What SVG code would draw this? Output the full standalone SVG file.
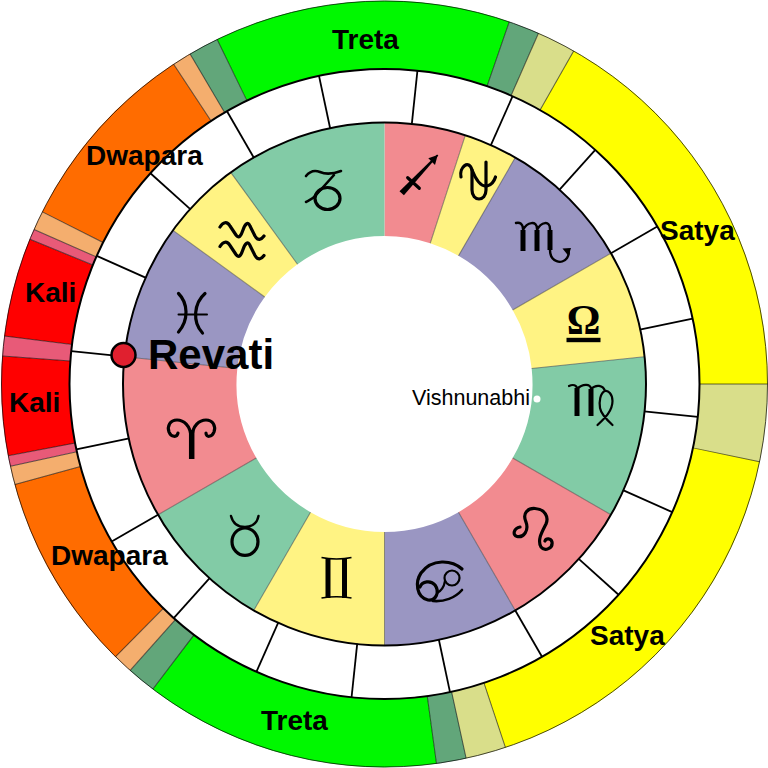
<svg xmlns="http://www.w3.org/2000/svg" width="768" height="768" viewBox="0 0 768 768">
<style>
.y{fill:none;stroke-width:68.5}
.z{fill:none;stroke-width:113.5}
.yellow{stroke:#FFFF00}.pale{stroke:#D9DE8A}.dg{stroke:#62A67A}.green{stroke:#00F800}.peach{stroke:#F4AE6E}.orange{stroke:#FF6C00}.pink{stroke:#E85A78}.red{stroke:#FF0000}
.zp{stroke:#F28B90}.zy{stroke:#FFF383}.zt{stroke:#82CBA6}.zv{stroke:#9A96C2}
.e{stroke:#000;stroke-opacity:.6;stroke-width:1}
.t{stroke:#000;stroke-width:1.8}
.d{stroke:#3c3c3c;stroke-opacity:.55;stroke-width:1}
.r{fill:none;stroke:#000}
.l{font-family:"Liberation Sans",Arial,sans-serif;font-weight:700;font-size:28px;fill:#000}
.s{fill:none;stroke:#000;stroke-width:3.2;stroke-linecap:round;stroke-linejoin:round}
.b{fill:none;stroke:#000;stroke-width:5}
</style>
<rect width="768" height="768" fill="#fff"/>
<g id="yuga-ring">
<g id="satya-upper"><circle class="y yellow" r="349" pathLength="360" stroke-dasharray="60.4 360" transform="translate(384.5 384) rotate(-60.4)"/></g>
<g id="sandhi-satya-east"><circle class="y pale" r="349" pathLength="360" stroke-dasharray="11.7 360" transform="translate(384.5 384)"/></g>
<g id="satya-lower"><circle class="y yellow" r="349" pathLength="360" stroke-dasharray="59.9 360" transform="translate(384.5 384) rotate(11.7)"/></g>
<g id="sandhi-satya-south"><circle class="y pale" r="349" pathLength="360" stroke-dasharray="6.1 360" transform="translate(384.5 384) rotate(71.6)"/></g>
<g id="sandhi-treta-s1"><circle class="y dg" r="349" pathLength="360" stroke-dasharray="4.5 360" transform="translate(384.5 384) rotate(77.7)"/></g>
<g id="treta-lower"><circle class="y green" r="349" pathLength="360" stroke-dasharray="45 360" transform="translate(384.5 384) rotate(82.2)"/></g>
<g id="sandhi-treta-s2"><circle class="y dg" r="349" pathLength="360" stroke-dasharray="4.4 360" transform="translate(384.5 384) rotate(127.2)"/></g>
<g id="sandhi-dwapara-s1"><circle class="y peach" r="349" pathLength="360" stroke-dasharray="3 360" transform="translate(384.5 384) rotate(131.6)"/></g>
<g id="dwapara-lower"><circle class="y orange" r="349" pathLength="360" stroke-dasharray="30.2 360" transform="translate(384.5 384) rotate(134.6)"/></g>
<g id="sandhi-dwapara-s2"><circle class="y peach" r="349" pathLength="360" stroke-dasharray="2.8 360" transform="translate(384.5 384) rotate(164.8)"/></g>
<g id="sandhi-kali-s"><circle class="y pink" r="349" pathLength="360" stroke-dasharray="1.6 360" transform="translate(384.5 384) rotate(167.6)"/></g>
<g id="kali-lower"><circle class="y red" r="349" pathLength="360" stroke-dasharray="15 360" transform="translate(384.5 384) rotate(169.2)"/></g>
<g id="sandhi-kali-w"><circle class="y pink" r="349" pathLength="360" stroke-dasharray="3 360" transform="translate(384.5 384) rotate(184.2)"/></g>
<g id="kali-upper"><circle class="y red" r="349" pathLength="360" stroke-dasharray="15 360" transform="translate(384.5 384) rotate(187.2)"/></g>
<g id="sandhi-kali-n"><circle class="y pink" r="349" pathLength="360" stroke-dasharray="1.6 360" transform="translate(384.5 384) rotate(202.2)"/></g>
<g id="sandhi-dwapara-n1"><circle class="y peach" r="349" pathLength="360" stroke-dasharray="2.9 360" transform="translate(384.5 384) rotate(203.8)"/></g>
<g id="dwapara-upper"><circle class="y orange" r="349" pathLength="360" stroke-dasharray="29.9 360" transform="translate(384.5 384) rotate(206.7)"/></g>
<g id="sandhi-dwapara-n2"><circle class="y peach" r="349" pathLength="360" stroke-dasharray="2.9 360" transform="translate(384.5 384) rotate(236.6)"/></g>
<g id="sandhi-treta-n1"><circle class="y dg" r="349" pathLength="360" stroke-dasharray="4.6 360" transform="translate(384.5 384) rotate(239.5)"/></g>
<g id="treta-upper"><circle class="y green" r="349" pathLength="360" stroke-dasharray="44.9 360" transform="translate(384.5 384) rotate(244.1)"/></g>
<g id="sandhi-treta-n2"><circle class="y dg" r="349" pathLength="360" stroke-dasharray="4.7 360" transform="translate(384.5 384) rotate(-71)"/></g>
<g id="sandhi-satya-n"><circle class="y pale" r="349" pathLength="360" stroke-dasharray="5.9 360" transform="translate(384.5 384) rotate(-66.3)"/></g>
</g>
<g id="zodiac-ring">
<g id="sagittarius"><circle class="z zp" r="204.75" pathLength="360" stroke-dasharray="18 360" transform="translate(384.5 384) rotate(-90)"/>
<path d="M399.5 191.3L403.9 195.3L438.3 155.5L437.1 154.5Z" fill="#000"/><path d="M407.7 177.7L419.3 188.3" class="s" stroke-width="3.5"/><path d="M428.3 158.3L437.7 155L435 165Z" fill="#000"/></g>
<g id="ophiuchus"><circle class="z zy" r="204.75" pathLength="360" stroke-dasharray="12 360" transform="translate(384.5 384) rotate(-72)"/>
<path class="s" d="M461 177C459 167 469 159 472 170L472 190C472 202 486 202 486 190L486 162"/><path class="s" d="M472 170C476 180 481 187 487 186C491 185 494 182 495.5 177"/></g>
<g id="scorpio"><circle class="z zv" r="204.75" pathLength="360" stroke-dasharray="30 360" transform="translate(384.5 384) rotate(-60)"/>
<path class="b" d="M523 230L523 251M537 230L537 251M550 230L550 250"/><path class="s" stroke-width="2.4" style="stroke-width:2.4" d="M516 223C520 222 523 224 523 229M523 230C527 222 537 220 537 229M537 230C541 222 550 220 550 229L550 250C550 262 562 265 567 258C569 255 569 252 568 250"/><path d="M562.5 248.5L571 248L568.5 256Z" fill="#000"/></g>
<g id="libra"><circle class="z zy" r="204.75" pathLength="360" stroke-dasharray="24 360" transform="translate(384.5 384) rotate(-30)"/>
<text x="583.5" y="334" text-anchor="middle" font-family="'Liberation Serif','DejaVu Serif',serif" font-weight="700" font-size="42">Ω</text><rect x="566.5" y="337.8" width="34" height="4.4" fill="#000"/></g>
<g id="virgo"><circle class="z zt" r="204.75" pathLength="360" stroke-dasharray="36 360" transform="translate(384.5 384) rotate(-6)"/>
<path class="b" d="M577 388L577 416M591 389L591 416"/><path class="s" style="stroke-width:2.2" d="M569 386C573 384 577 385 577 389M577 389C582 384 591 383 591 389C596 384 603 385 605 391M597.5 425C605 418 612.5 411 612.5 401C612.5 394 608 390 605 391C600 393 599 402 600 408C601 414 607 420 612.5 425"/></g>
<g id="leo"><circle class="z zp" r="204.75" pathLength="360" stroke-dasharray="30 360" transform="translate(384.5 384) rotate(30)"/>
<path class="s" d="M520 527C514 528 512 535 517 536.5C524 538 529 530 526 522C522 513 528 508 535 508.5C545 509 549 517 546 524C542 532 537 540 541 547C545 552 553 548 552 542C551 538 546 538 545 541"/></g>
<g id="cancer"><circle class="z zv" r="204.75" pathLength="360" stroke-dasharray="30 360" transform="translate(384.5 384) rotate(60)"/>
<path class="s" d="M462 569C452 560 432 558 421 573C415 582 416 597 428 600C436 601 440 592 435 585C431 580 422 581 420 587"/><path class="s" style="stroke-width:2.6" d="M462 590C455 598 444 602 433 601"/><circle class="s" style="stroke-width:2.2" cx="452" cy="578" r="7.5"/><path class="s" style="stroke-width:2.2" d="M445 581C444 587 441 591 437 593"/></g>
<g id="gemini"><circle class="z zy" r="204.75" pathLength="360" stroke-dasharray="30 360" transform="translate(384.5 384) rotate(90)"/>
<path class="b" d="M328 558L328 598M344.5 558L344.5 598"/><path class="s" style="stroke-width:1.6;stroke-linecap:butt" d="M321.5 557.5C330 559.5 343 559.5 351.5 557.5M321.5 598C330 596.5 343 596.5 351.5 598"/></g>
<g id="taurus"><circle class="z zt" r="204.75" pathLength="360" stroke-dasharray="30 360" transform="translate(384.5 384) rotate(120)"/>
<ellipse class="s" cx="245" cy="541.7" rx="13" ry="13.7"/><path class="s" style="stroke-width:2.4" d="M231 516C233 524 239 527 245 527C251 527 257 524 258.5 516"/></g>
<g id="aries"><circle class="z zp" r="204.75" pathLength="360" stroke-dasharray="36 360" transform="translate(384.5 384) rotate(150)"/>
<path class="b" style="stroke-width:5.5" d="M191.7 430L191.7 459"/><path class="s" d="M191 438C191 425 183 420 177 420C170 420 167 426 169 432C171 437 177 438 178 433M192 438C192 425 200 420 206 420C213 420 216 426 214 432C212 437 206 438 206 433"/></g>
<g id="pisces"><circle class="z zv" r="204.75" pathLength="360" stroke-dasharray="30 360" transform="translate(384.5 384) rotate(186)"/>
<path class="s" d="M178.5 293.5C188 303 189 320 178.5 332M205 293.5C194 303 192 322 202.5 333"/><path class="s" style="stroke-width:2" d="M178.5 314.5L207 314.5"/></g>
<g id="aquarius"><circle class="z zy" r="204.75" pathLength="360" stroke-dasharray="18 360" transform="translate(384.5 384) rotate(216)"/>
<path class="s" id="wave-a" d="M220 227C223 222 227 221 230 226L236 235C239 239 241 236 243 230C245 224 248 221 250 226L255 236C258 241 261 240 264 236"/><path class="s" d="M220 246.5C223 241.500 227 240.500 230 245.500L236 254.500C239 258.500 241 255.500 243 249.500C245 243.500 248 240.500 250 245.500L255 255.500C258 260.500 261 259.500 264 255.500"/></g>
<g id="capricorn"><circle class="z zt" r="204.75" pathLength="360" stroke-dasharray="36 360" transform="translate(384.5 384) rotate(234)"/>
<path class="s" style="stroke-width:2.6" d="M306 176C310 171 315 170 320 172C327 175 333 174 341 171M334 175L316 195C313 199 310 200 306 202"/><ellipse class="s" cx="327.500" cy="198.500" rx="12.500" ry="11"/></g>
</g>
<g id="connectors" transform="translate(384.5 384)">
<g id="yuga-dividers">
<line class="e" y1="-315" y2="-383" transform="rotate(29.6)"/><line class="e" y1="-315" y2="-383" transform="rotate(90)"/><line class="e" y1="-315" y2="-383" transform="rotate(101.7)"/><line class="e" y1="-315" y2="-383" transform="rotate(161.6)"/><line class="e" y1="-315" y2="-383" transform="rotate(167.7)"/><line class="e" y1="-315" y2="-383" transform="rotate(172.2)"/><line class="e" y1="-315" y2="-383" transform="rotate(217.2)"/><line class="e" y1="-315" y2="-383" transform="rotate(221.6)"/><line class="e" y1="-315" y2="-383" transform="rotate(224.6)"/><line class="e" y1="-315" y2="-383" transform="rotate(254.8)"/><line class="e" y1="-315" y2="-383" transform="rotate(257.6)"/><line class="e" y1="-315" y2="-383" transform="rotate(259.2)"/><line class="e" y1="-315" y2="-383" transform="rotate(274.2)"/><line class="e" y1="-315" y2="-383" transform="rotate(277.2)"/><line class="e" y1="-315" y2="-383" transform="rotate(292.2)"/><line class="e" y1="-315" y2="-383" transform="rotate(293.8)"/><line class="e" y1="-315" y2="-383" transform="rotate(296.7)"/><line class="e" y1="-315" y2="-383" transform="rotate(326.6)"/><line class="e" y1="-315" y2="-383" transform="rotate(329.5)"/><line class="e" y1="-315" y2="-383" transform="rotate(334.1)"/><line class="e" y1="-315" y2="-383" transform="rotate(19)"/><line class="e" y1="-315" y2="-383" transform="rotate(23.7)"/>
</g>
<g id="zodiac-dividers">
<line class="d" y1="-148" y2="-261" transform="rotate(18)"/><line class="d" y1="-148" y2="-261" transform="rotate(30)"/><line class="d" y1="-148" y2="-261" transform="rotate(60)"/><line class="d" y1="-148" y2="-261" transform="rotate(84)"/><line class="d" y1="-148" y2="-261" transform="rotate(120)"/><line class="d" y1="-148" y2="-261" transform="rotate(150)"/><line class="d" y1="-148" y2="-261" transform="rotate(180)" stroke-width="1.5"/><line class="d" y1="-148" y2="-261" transform="rotate(210)"/><line class="d" y1="-148" y2="-261" transform="rotate(240)"/><line class="d" y1="-148" y2="-261" transform="rotate(276)"/><line class="d" y1="-148" y2="-261" transform="rotate(306)"/><line class="d" y1="-148" y2="-261" transform="rotate(324)"/>
</g>
<g id="nakshatra-ticks">
<line class="t" y1="-261" y2="-315" transform="rotate(6)"/><line class="t" y1="-261" y2="-315" transform="rotate(24)"/><line class="t" y1="-261" y2="-315" transform="rotate(42)"/><line class="t" y1="-261" y2="-315" transform="rotate(60)"/><line class="t" y1="-261" y2="-315" transform="rotate(78)"/><line class="t" y1="-261" y2="-315" transform="rotate(96)"/><line class="t" y1="-261" y2="-315" transform="rotate(114)"/><line class="t" y1="-261" y2="-315" transform="rotate(132)"/><line class="t" y1="-261" y2="-315" transform="rotate(150)"/><line class="t" y1="-261" y2="-315" transform="rotate(168)"/><line class="t" y1="-261" y2="-315" transform="rotate(186)"/><line class="t" y1="-261" y2="-315" transform="rotate(204)"/><line class="t" y1="-261" y2="-315" transform="rotate(222)"/><line class="t" y1="-261" y2="-315" transform="rotate(240)"/><line class="t" y1="-261" y2="-315" transform="rotate(258)"/><line class="t" y1="-261" y2="-315" transform="rotate(276)"/><line class="t" y1="-261" y2="-315" transform="rotate(294)"/><line class="t" y1="-261" y2="-315" transform="rotate(312)"/><line class="t" y1="-261" y2="-315" transform="rotate(330)"/><line class="t" y1="-261" y2="-315" transform="rotate(348)"/>
</g>
<g id="ring-outlines">
<circle class="r" r="383" stroke-width="1" stroke-opacity=".7"/>
<circle class="r" r="315" stroke-width="2"/>
<circle class="r" r="261.5" stroke-width="2"/>
</g>
</g>
<g id="yuga-labels">
<text class="l" x="332" y="49">Treta</text>
<text class="l" x="86" y="165">Dwapara</text>
<text class="l" x="25" y="302">Kali</text>
<text class="l" x="9" y="412">Kali</text>
<text class="l" x="660" y="240">Satya</text>
<text class="l" x="590" y="645">Satya</text>
<text class="l" x="51" y="565">Dwapara</text>
<text class="l" x="261" y="730">Treta</text>
</g>
<g id="revati">
<circle cx="123.5" cy="355" r="12" fill="#E0202F" stroke="#000" stroke-width="2.5"/>
<text x="148" y="369" font-family="'Liberation Sans',Arial,sans-serif" font-weight="700" font-size="42">Revati</text>
</g>
<g id="vishnunabhi">
<circle cx="537" cy="399" r="3.5" fill="#fff"/>
<text x="412" y="405" font-family="'Liberation Sans',Arial,sans-serif" font-size="21.5">Vishnunabhi</text>
</g>
</svg>
